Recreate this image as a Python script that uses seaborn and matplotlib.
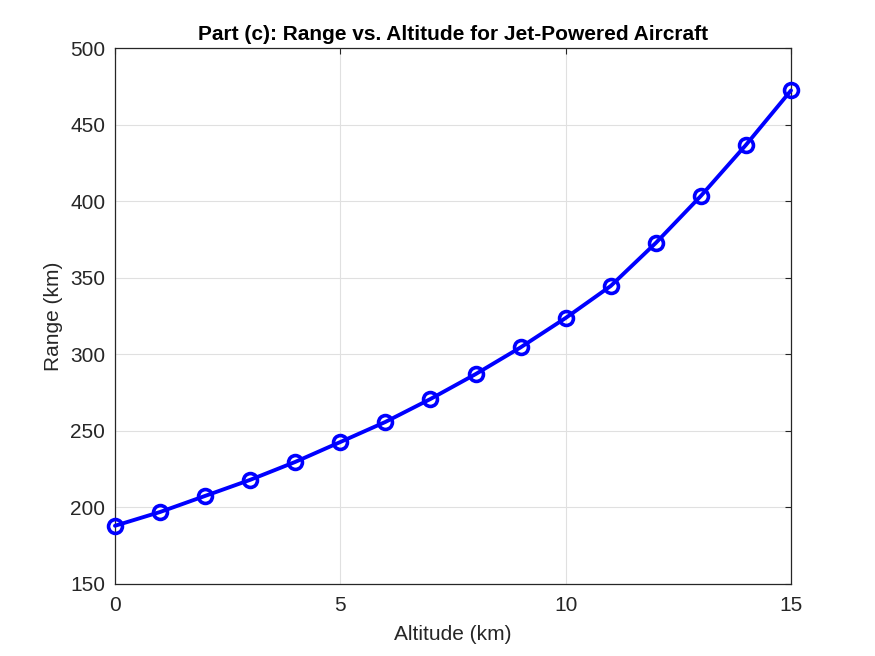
import pandas as pd
import seaborn as sns
import matplotlib.pyplot as plt

altitude_km = [0, 1, 2, 3, 4, 5, 6, 7, 8, 9, 10, 11, 12, 13, 14, 15]
range_km = [188, 197, 207.5, 218, 229.7, 242.7, 255.8, 270.8, 287, 304.5,
            323.7, 344.6, 372.7, 403.4, 436.7, 472.3]

df = pd.DataFrame({"Altitude": altitude_km, "Range": range_km})

sns.set_style("white")
plt.rcParams['font.family'] = ['Liberation Sans', 'DejaVu Sans']

fig = plt.figure(figsize=(8.75, 6.56), dpi=100)
ax = fig.add_axes([0.1314, 0.1098, 0.7726, 0.817])

sns.lineplot(data=df, x="Altitude", y="Range", ax=ax, color="#0000ff",
             linewidth=2.8, marker="o", markersize=10, markerfacecolor="none",
             markeredgecolor="#0000ff", markeredgewidth=2.6, clip_on=False,
             zorder=5)

ax.set_xlim(0, 15)
ax.set_ylim(150, 500)
ax.set_xticks([0, 5, 10, 15])
ax.set_yticks(range(150, 501, 50))
ax.grid(True, color="#e0e0e0", linewidth=0.8)
for s in ax.spines.values():
    s.set_visible(True)
    s.set_color("#262626")
    s.set_linewidth(0.9)
ax.tick_params(direction="in", length=4, width=0.8, colors="#262626",
               labelsize=15, top=True, right=True, labeltop=False, labelright=False)
ax.tick_params(axis="x", pad=9)
ax.tick_params(axis="y", pad=7)
ax.set_xlabel("Altitude (km)", fontsize=15, color="#262626", labelpad=7)
ax.set_ylabel("Range (km)", fontsize=15, color="#262626", labelpad=5)
ax.set_title("Part (c): Range vs. Altitude for Jet-Powered Aircraft",
             fontsize=15, fontweight="bold", color="black", pad=6)

fig.savefig("out.png", dpi=100)
